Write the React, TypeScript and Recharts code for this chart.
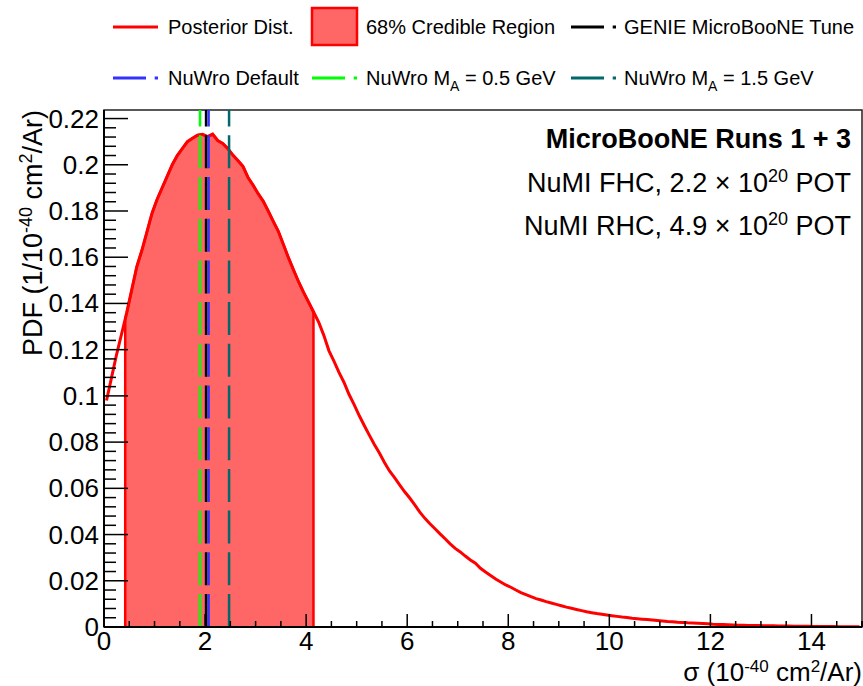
import React from "react";
import { ComposedChart, Line, Area, XAxis, YAxis, ReferenceArea } from "recharts";

// posterior PDF, one value per 0.1-wide bin of sigma (0 .. 15)
const BIN_WIDTH = 0.1;
const posterior = [
  0.098, 0.108, 0.118, 0.127, 0.136, 0.146, 0.156, 0.163, 0.171, 0.179,
  0.185, 0.19, 0.195, 0.2, 0.204, 0.207, 0.21, 0.2115, 0.2128, 0.2132,
  0.2122, 0.2133, 0.2105, 0.2092, 0.207, 0.2042, 0.2018, 0.1993, 0.1945, 0.1912,
  0.1875, 0.1843, 0.18, 0.1755, 0.1712, 0.1655, 0.1598, 0.1545, 0.1494, 0.1448,
  0.1405, 0.1362, 0.1318, 0.1262, 0.1196, 0.115, 0.1102, 0.1058, 0.1006, 0.0962,
  0.0915, 0.0872, 0.083, 0.079, 0.0753, 0.0712, 0.0675, 0.0646, 0.0615, 0.0585,
  0.0558, 0.0528, 0.0497, 0.047, 0.0447, 0.0425, 0.0403, 0.0382, 0.036, 0.034,
  0.0325, 0.0307, 0.029, 0.0276, 0.0254, 0.0238, 0.0223, 0.0208, 0.0195, 0.0182,
  0.0172, 0.016, 0.0149, 0.014, 0.0131, 0.0123, 0.0117, 0.011, 0.0104, 0.0098,
  0.0092, 0.0086, 0.0081, 0.0076, 0.0071, 0.0066, 0.0062, 0.0058, 0.0055, 0.0052,
  0.0049, 0.0046, 0.0043, 0.0041, 0.0038, 0.0036, 0.0034, 0.0032, 0.003, 0.0028,
  0.0026, 0.0024, 0.0023, 0.0021, 0.002, 0.0018, 0.0017, 0.0016, 0.0015, 0.0014,
  0.0012, 0.0011, 0.0011, 0.001, 0.0009, 0.0008, 0.0008, 0.0007, 0.0007, 0.0006,
  0.0005, 0.0005, 0.0005, 0.0004, 0.0004, 0.0004, 0.0003, 0.0003, 0.0003, 0.0003,
  0.0002, 0.0002, 0.0002, 0.0002, 0.0002, 0.0001, 0.0001, 0.0001, 0.0001, 0.0001,
];

// 68% credible interval
const credibleRange = [0.42, 4.145];

// model predictions (vertical markers)
const genieTune = 2.02;
const nuwroDefault = 2.07;
const nuwroMa05 = 1.9;
const nuwroMa15 = 2.475;

const X_MAX = 15;
const Y_MAX = 0.2237;
const xMajorTicks = [0, 2, 4, 6, 8, 10, 12, 14];
const xTickLabels = ["0", "2", "4", "6", "8", "10", "12", "14"];
const yMajorTicks = [0, 0.02, 0.04, 0.06, 0.08, 0.1, 0.12, 0.14, 0.16, 0.18, 0.2, 0.22];
const yTickLabels = ["0", "0.02", "0.04", "0.06", "0.08", "0.1", "0.12", "0.14", "0.16", "0.18", "0.2", "0.22"];

const FONT = "'Liberation Sans', Arial, Helvetica, sans-serif";
const RED = "#ff0000";
const FILL = "#ff6666";
const BLUE = "#3333ff";
const GREEN = "#00ff00";
const TEAL = "#00696b";
const DASH = "33 8.7";

// minor ticks: 4 per y division, 3 per x division
const yTicks: number[] = [];
yMajorTicks.forEach((t) => {
  yTicks.push(t);
  for (let k = 1; k < 5; k++) {
    const m = +(t + k * 0.004).toFixed(4);
    if (m <= Y_MAX) yTicks.push(m);
  }
});
const xTicks: number[] = [];
xMajorTicks.forEach((t) => {
  for (let k = 0; k < 4; k++) {
    const m = t + k * 0.5;
    if (m <= X_MAX) xTicks.push(m);
  }
});
xTicks.push(X_MAX);

// one point per bin centre
const histData = posterior.map((v, i) => ({ s: +((i + 0.5) * BIN_WIDTH).toFixed(3), pdf: v }));

// height of the drawn curve at x (between neighbouring bin centres)
const curveAt = (x: number) => {
  const j = Math.max(0, Math.min(histData.length - 2, Math.floor(x / BIN_WIDTH - 0.5)));
  const a = histData[j];
  const b = histData[j + 1];
  return a.pdf + ((b.pdf - a.pdf) * (x - a.s)) / (b.s - a.s);
};

const [credLo, credHi] = credibleRange;
const credibleData = [
  { s: credLo, pdf: 0 },
  { s: credLo, pdf: curveAt(credLo) },
  ...histData.filter((p) => p.s > credLo && p.s < credHi),
  { s: credHi, pdf: curveAt(credHi) },
  { s: credHi, pdf: 0 },
];

const vline = (x: number) => [
  { s: x, pdf: 0 },
  { s: x, pdf: Y_MAX },
];

const findMajor = (list: number[], v: number) => list.findIndex((t) => Math.abs(t - v) < 1e-6);

const XTick = ({ x, y, payload }: any) => {
  const idx = findMajor(xMajorTicks, payload.value);
  const len = idx >= 0 ? 13 : 6;
  return (
    <g>
      <line x1={x} x2={x} y1={y} y2={y - len} stroke="#000" strokeWidth={1.5} />
      {idx >= 0 && (
        <text x={x} y={y + 23} textAnchor="middle" fontSize={26} fontFamily={FONT} fill="#000">
          {xTickLabels[idx]}
        </text>
      )}
    </g>
  );
};

const YTick = ({ x, y, payload }: any) => {
  const idx = findMajor(yMajorTicks, payload.value);
  const len = idx >= 0 ? 24 : 12;
  return (
    <g>
      <line x1={x} x2={x + len} y1={y} y2={y} stroke="#000" strokeWidth={1.5} />
      {idx >= 0 && (
        <text x={x - 5} y={y + 9} textAnchor="end" fontSize={26} fontFamily={FONT} fill="#000">
          {yTickLabels[idx]}
        </text>
      )}
    </g>
  );
};

const LegendRow = ({ y, items }: { y: number; items: any[] }) => (
  <g>
    {items.map((it, i) => (
      <g key={i}>
        {it.box ? (
          <rect x={it.x} y={y - 19} width={45} height={37} fill={FILL} stroke={RED} strokeWidth={2.5} />
        ) : (
          <line
            x1={it.x}
            x2={it.x + 45}
            y1={y}
            y2={y}
            stroke={it.color}
            strokeWidth={3}
            strokeDasharray={it.dashed ? DASH : undefined}
          />
        )}
        <text x={it.tx} y={y + 7} fontSize={20} fontFamily={FONT} fill="#000">
          {it.label}
          {it.sub && (
            <>
              <tspan dy={6} fontSize={14}>A</tspan>
              <tspan dy={-6}>{it.sub}</tspan>
            </>
          )}
        </text>
      </g>
    ))}
  </g>
);

export default function App() {
  return (
    <div style={{ position: "absolute", left: 0, top: 0, width: 863, height: 686, background: "#fff" }}>
      <ComposedChart
        width={863}
        height={686}
        margin={{ top: 110, right: 1, bottom: 29, left: 44 }}
      >
        <XAxis
          dataKey="s"
          type="number"
          domain={[0, X_MAX]}
          ticks={xTicks}
          interval={0}
          tickSize={0}
          tickMargin={0}
          tickLine={false}
          tick={<XTick />}
          axisLine={{ stroke: "#000", strokeWidth: 2 }}
          allowDataOverflow
        />
        <YAxis
          type="number"
          domain={[0, Y_MAX]}
          ticks={yTicks}
          interval={0}
          tickSize={0}
          tickMargin={0}
          tickLine={false}
          tick={<YTick />}
          axisLine={{ stroke: "#000", strokeWidth: 2 }}
          allowDataOverflow
        />
        <Area
          data={credibleData}
          dataKey="pdf"
          type="linear"
          fill={FILL}
          fillOpacity={1}
          stroke={RED}
          strokeWidth={2.5}
          isAnimationActive={false}
        />
        <Line
          data={histData}
          dataKey="pdf"
          type="linear"
          stroke={RED}
          strokeWidth={3}
          dot={false}
          isAnimationActive={false}
        />
        <Line data={vline(nuwroMa05)} dataKey="pdf" stroke={GREEN} strokeWidth={2.5} strokeDasharray={DASH} dot={false} isAnimationActive={false} />
        <Line data={vline(genieTune)} dataKey="pdf" stroke="#000" strokeWidth={2.5} strokeDasharray={DASH} dot={false} isAnimationActive={false} />
        <Line data={vline(nuwroDefault)} dataKey="pdf" stroke={BLUE} strokeWidth={2.5} strokeDasharray={DASH} dot={false} isAnimationActive={false} />
        <Line data={vline(nuwroMa15)} dataKey="pdf" stroke={TEAL} strokeWidth={2.5} strokeDasharray={DASH} dot={false} isAnimationActive={false} />
        <ReferenceArea x1={0} x2={X_MAX} y1={0} y2={Y_MAX} fill="none" stroke="#222" strokeWidth={1.5} />
      </ComposedChart>

      <svg
        width={863}
        height={686}
        style={{ position: "absolute", left: 0, top: 0, pointerEvents: "none" }}
        fontFamily={FONT}
      >
        <LegendRow
          y={27}
          items={[
            { x: 113, tx: 168, color: RED, label: "Posterior Dist." },
            { x: 312, tx: 366, box: true, label: "68% Credible Region" },
            { x: 571, tx: 624, color: "#000", dashed: true, label: "GENIE MicroBooNE Tune" },
          ]}
        />
        <LegendRow
          y={78}
          items={[
            { x: 113, tx: 168, color: BLUE, dashed: true, label: "NuWro Default" },
            { x: 312, tx: 366, color: GREEN, dashed: true, label: "NuWro M", sub: " = 0.5 GeV" },
            { x: 571, tx: 624, color: TEAL, dashed: true, label: "NuWro M", sub: " = 1.5 GeV" },
          ]}
        />

        <text x={851} y={148} textAnchor="end" fontSize={27} fontWeight="bold" fill="#000">
          MicroBooNE Runs 1 + 3
        </text>
        <text x={851} y={192} textAnchor="end" fontSize={27} fill="#000">
          NuMI FHC, 2.2 × 10<tspan dy={-10} fontSize={18}>20</tspan>
          <tspan dy={10}> POT</tspan>
        </text>
        <text x={851} y={235} textAnchor="end" fontSize={27} fill="#000">
          NuMI RHC, 4.9 × 10<tspan dy={-10} fontSize={18}>20</tspan>
          <tspan dy={10}> POT</tspan>
        </text>

        <text x={862} y={681} textAnchor="end" fontSize={26} fill="#000">
          σ (10<tspan dy={-9} fontSize={17}>-40</tspan>
          <tspan dy={9}> cm</tspan>
          <tspan dy={-9} fontSize={17}>2</tspan>
          <tspan dy={9}>/Ar)</tspan>
        </text>
        <text transform="rotate(-90)" x={-110} y={42} textAnchor="end" fontSize={27} fill="#000">
          PDF (1/10<tspan dy={-10} fontSize={18}>-40</tspan>
          <tspan dy={10}> cm</tspan>
          <tspan dy={-10} fontSize={18}>2</tspan>
          <tspan dy={10}>/Ar)</tspan>
        </text>
      </svg>
    </div>
  );
}
